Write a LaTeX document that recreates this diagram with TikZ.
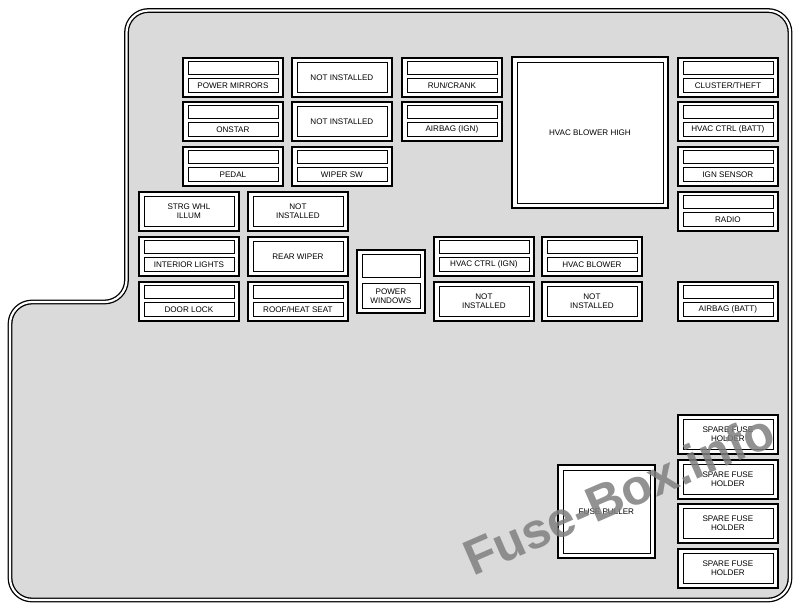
\documentclass[tikz,border=0pt]{standalone}
\usepackage{fontspec}
\setmainfont{Liberation Sans}
\definecolor{bgc}{RGB}{219,218,219}
\newcommand\lbl{\fontsize{8.1}{9}\selectfont}
\tikzset{
  fbox/.style={draw=black, line width=1.8pt, fill=white, inner sep=0pt, anchor=north west},
  ibox/.style={draw=black, line width=0.7pt, fill=white, inner sep=0pt, font=\lbl, align=center},
  outline/.style={line width=1.3pt, double=white, double distance=2.2pt, rounded corners=22pt},
}
% two-part fuse: name, x, y, label
\newcommand\fusetwo[4]{%
  \node[fbox, minimum width=100pt, minimum height=39pt] (#1) at (#2,#3) {};
  \node[ibox, minimum width=90pt, minimum height=13pt, anchor=north] (#1t) at ([yshift=-4pt]#1.north) {};
  \node[ibox, minimum width=90pt, minimum height=14pt, anchor=south] (#1l) at ([yshift=5pt]#1.south) {#4};
}
% single-part fuse: name, x, y, label
\newcommand\fuseone[4]{%
  \node[fbox, minimum width=100pt, minimum height=39pt] (#1) at (#2,#3) {};
  \node[ibox, minimum width=90pt, minimum height=30pt] (#1l) at (#1.center) {#4};
}
\begin{document}
\begin{tikzpicture}[x=1pt,y=-1pt]
\useasboundingbox (0,0) rectangle (800,608);
\fill[white] (0,0) rectangle (800,608);
% housing
\fill[bgc, rounded corners=22pt] (400,10.5) -- (790,10.5) -- (790,600) -- (10,600) -- (10,302) -- (126.5,302) -- (126.5,10.5) -- cycle;
\draw[outline] (400,10.5) -- (790,10.5) -- (790,600) -- (10,600) -- (10,302) -- (126.5,302) -- (126.5,10.5) -- cycle;

% column A
\fusetwo{pm}{182}{57}{POWER MIRRORS}
\fusetwo{on}{182}{101}{ONSTAR}
\fusetwo{pe}{182}{146}{PEDAL}
% column B
\fuseone{nia}{291}{57}{NOT INSTALLED}
\fuseone{nib}{291}{101}{NOT INSTALLED}
\fusetwo{ws}{291}{146}{WIPER SW}
% column C
\fusetwo{rc}{401}{57}{RUN/CRANK}
\fusetwo{ai}{401}{101}{AIRBAG (IGN)}
% HVAC blower high relay
\node[fbox, minimum width=156pt, minimum height=151pt] (hbh) at (511,56) {};
\node[ibox, minimum width=146pt, minimum height=141pt] (hbhl) at (hbh.center) {HVAC BLOWER HIGH};
% column E
\fusetwo{ct}{677}{57}{CLUSTER/THEFT}
\fusetwo{hcb}{677}{101}{HVAC CTRL (BATT)}
\fusetwo{ig}{677}{146}{IGN SENSOR}
\fusetwo{ra}{677}{191}{RADIO}
\fusetwo{ab}{677}{281}{AIRBAG (BATT)}
% lower left block
\fuseone{sw}{138}{191}{STRG WHL\\ILLUM}
\fuseone{nic}{247}{191}{NOT\\INSTALLED}
\fusetwo{il}{138}{236}{INTERIOR LIGHTS}
\fuseone{rw}{247}{236}{REAR WIPER}
\fusetwo{dl}{138}{281}{DOOR LOCK}
\fusetwo{rh}{247}{281}{ROOF/HEAT SEAT}
% power windows
\node[fbox, minimum width=68pt, minimum height=63pt] (pw) at (356,249) {};
\node[ibox, minimum width=58pt, minimum height=23pt, anchor=north] (pwt) at ([yshift=-5pt]pw.north) {};
\node[ibox, minimum width=58pt, minimum height=25pt, anchor=south] (pwl) at ([yshift=5pt]pw.south) {POWER\\WINDOWS};
% middle block
\fusetwo{hci}{433}{236}{HVAC CTRL (IGN)}
\fusetwo{hbl}{541}{236}{HVAC BLOWER}
\fuseone{nid}{433}{281}{NOT\\INSTALLED}
\fuseone{nie}{541}{281}{NOT\\INSTALLED}
% spare fuse holders
\fuseone{spa}{677}{414}{SPARE FUSE\\HOLDER}
\fuseone{spb}{677}{459}{SPARE FUSE\\HOLDER}
\fuseone{spc}{677}{503}{SPARE FUSE\\HOLDER}
\fuseone{spd}{677}{548}{SPARE FUSE\\HOLDER}
% fuse puller
\node[fbox, minimum width=97pt, minimum height=93pt] (fp) at (557,464) {};
\node[ibox, minimum width=87pt, minimum height=83pt] (fpl) at (fp.center) {FUSE PULLER};
% watermark
\node[rotate=23.5, font=\fontsize{50}{50}\selectfont\bfseries, text=black!50, opacity=0.85] (wm) at (619,494) {Fuse-Box.info};
\end{tikzpicture}
\end{document}
